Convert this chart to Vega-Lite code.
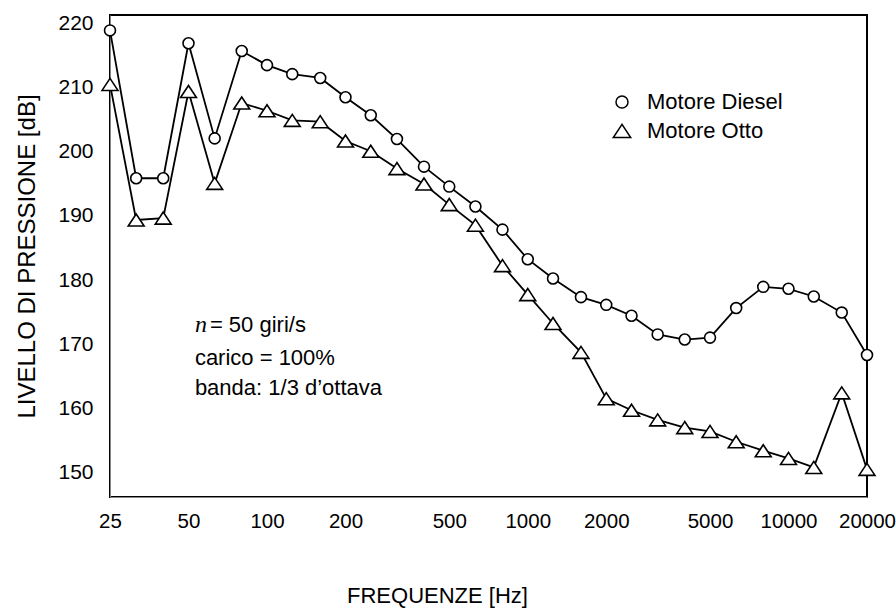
{
  "$schema": "https://vega.github.io/schema/vega-lite/v6.json",
  "width": 757,
  "height": 482,
  "autosize": "none",
  "padding": {"left": 110, "top": 15, "right": 29, "bottom": 115},
  "background": "white",
  "config": {
    "view": {"stroke": "black", "strokeWidth": 2},
    "font": "Liberation Sans",
    "axis": {"labelColor": "black", "titleColor": "black", "titleFontWeight": "normal", "labelFont": "Liberation Sans", "titleFont": "Liberation Sans", "ticks": false, "grid": false}
  },
  "datasets": {
    "spl": [
      {"freq": 25, "level": 217.6, "motore": "Motore Diesel"},
      {"freq": 31.5, "level": 194.6, "motore": "Motore Diesel"},
      {"freq": 40, "level": 194.6, "motore": "Motore Diesel"},
      {"freq": 50, "level": 215.6, "motore": "Motore Diesel"},
      {"freq": 63, "level": 200.8, "motore": "Motore Diesel"},
      {"freq": 80, "level": 214.4, "motore": "Motore Diesel"},
      {"freq": 100, "level": 212.2, "motore": "Motore Diesel"},
      {"freq": 125, "level": 210.8, "motore": "Motore Diesel"},
      {"freq": 160, "level": 210.2, "motore": "Motore Diesel"},
      {"freq": 200, "level": 207.2, "motore": "Motore Diesel"},
      {"freq": 250, "level": 204.4, "motore": "Motore Diesel"},
      {"freq": 315, "level": 200.7, "motore": "Motore Diesel"},
      {"freq": 400, "level": 196.4, "motore": "Motore Diesel"},
      {"freq": 500, "level": 193.3, "motore": "Motore Diesel"},
      {"freq": 630, "level": 190.2, "motore": "Motore Diesel"},
      {"freq": 800, "level": 186.6, "motore": "Motore Diesel"},
      {"freq": 1000, "level": 182.0, "motore": "Motore Diesel"},
      {"freq": 1250, "level": 179.0, "motore": "Motore Diesel"},
      {"freq": 1600, "level": 176.1, "motore": "Motore Diesel"},
      {"freq": 2000, "level": 174.9, "motore": "Motore Diesel"},
      {"freq": 2500, "level": 173.2, "motore": "Motore Diesel"},
      {"freq": 3150, "level": 170.3, "motore": "Motore Diesel"},
      {"freq": 4000, "level": 169.5, "motore": "Motore Diesel"},
      {"freq": 5000, "level": 169.8, "motore": "Motore Diesel"},
      {"freq": 6300, "level": 174.4, "motore": "Motore Diesel"},
      {"freq": 8000, "level": 177.7, "motore": "Motore Diesel"},
      {"freq": 10000, "level": 177.4, "motore": "Motore Diesel"},
      {"freq": 12500, "level": 176.2, "motore": "Motore Diesel"},
      {"freq": 16000, "level": 173.7, "motore": "Motore Diesel"},
      {"freq": 20000, "level": 167.1, "motore": "Motore Diesel"},
      {"freq": 25, "level": 209.2, "motore": "Motore Otto"},
      {"freq": 31.5, "level": 188.1, "motore": "Motore Otto"},
      {"freq": 40, "level": 188.4, "motore": "Motore Otto"},
      {"freq": 50, "level": 208.1, "motore": "Motore Otto"},
      {"freq": 63, "level": 193.8, "motore": "Motore Otto"},
      {"freq": 80, "level": 206.3, "motore": "Motore Otto"},
      {"freq": 100, "level": 205.1, "motore": "Motore Otto"},
      {"freq": 125, "level": 203.6, "motore": "Motore Otto"},
      {"freq": 160, "level": 203.4, "motore": "Motore Otto"},
      {"freq": 200, "level": 200.4, "motore": "Motore Otto"},
      {"freq": 250, "level": 198.8, "motore": "Motore Otto"},
      {"freq": 315, "level": 196.1, "motore": "Motore Otto"},
      {"freq": 400, "level": 193.7, "motore": "Motore Otto"},
      {"freq": 500, "level": 190.5, "motore": "Motore Otto"},
      {"freq": 630, "level": 187.3, "motore": "Motore Otto"},
      {"freq": 800, "level": 181.0, "motore": "Motore Otto"},
      {"freq": 1000, "level": 176.5, "motore": "Motore Otto"},
      {"freq": 1250, "level": 172.0, "motore": "Motore Otto"},
      {"freq": 1600, "level": 167.5, "motore": "Motore Otto"},
      {"freq": 2000, "level": 160.3, "motore": "Motore Otto"},
      {"freq": 2500, "level": 158.5, "motore": "Motore Otto"},
      {"freq": 3150, "level": 157.0, "motore": "Motore Otto"},
      {"freq": 4000, "level": 155.8, "motore": "Motore Otto"},
      {"freq": 5000, "level": 155.2, "motore": "Motore Otto"},
      {"freq": 6300, "level": 153.6, "motore": "Motore Otto"},
      {"freq": 8000, "level": 152.2, "motore": "Motore Otto"},
      {"freq": 10000, "level": 151.0, "motore": "Motore Otto"},
      {"freq": 12500, "level": 149.6, "motore": "Motore Otto"},
      {"freq": 16000, "level": 161.2, "motore": "Motore Otto"},
      {"freq": 20000, "level": 149.3, "motore": "Motore Otto"}
    ],
    "note": [
      {"freq": 60.4, "level": 171.7, "text": "= 50 giri/s"},
      {"freq": 52.9, "level": 166.7, "text": "carico = 100%"},
      {"freq": 52.9, "level": 161.9, "text": "banda: 1/3 d’ottava"}
    ],
    "noteVar": [
      {"freq": 52.9, "level": 171.7, "text": "n"}
    ]
  },
  "encoding": {
    "x": {
      "field": "freq", "type": "quantitative",
      "scale": {"type": "log", "domain": [25, 20000], "nice": false},
      "axis": {
        "title": "FREQUENZE [Hz]",
        "titleFontSize": 22,
        "titlePadding": 54,
        "titleX": 327,
        "labelFontSize": 20.5,
        "labelFlush": false,
        "labelOverlap": false,
        "labelPadding": 14,
        "values": [25, 50, 100, 200, 500, 1000, 2000, 5000, 10000, 20000],
        "format": "d"
      }
    },
    "y": {
      "field": "level", "type": "quantitative",
      "scale": {"domain": [145, 220], "nice": false, "zero": false},
      "axis": {
        "title": "LIVELLO DI PRESSIONE [dB]",
        "titleFontSize": 24,
        "titlePadding": 18,
        "labelFontSize": 21,
        "labelPadding": 17,
        "labelOffset": 8,
        "values": [150, 160, 170, 180, 190, 200, 210, 220]
      }
    }
  },
  "layer": [
    {
      "data": {"name": "spl"},
      "mark": {"type": "line", "color": "black", "strokeWidth": 1.8},
      "encoding": {"detail": {"field": "motore"}}
    },
    {
      "data": {"name": "spl"},
      "mark": {"type": "point", "filled": true, "fill": "white", "stroke": "black", "strokeWidth": 1.6, "opacity": 1, "size": 120},
      "encoding": {
        "shape": {
          "field": "motore", "type": "nominal",
          "scale": {"domain": ["Motore Diesel", "Motore Otto"], "range": ["circle", "M0,-1.1L-1.45,1.1L1.45,1.1Z"]},
          "legend": {
            "title": null,
            "orient": "none",
            "legendX": 501,
            "legendY": 76,
            "padding": 0,
            "labelFontSize": 22,
            "labelColor": "black",
            "labelLimit": 300,
            "labelOffset": 14,
            "rowPadding": 7,
            "symbolSize": 144
          }
        }
      }
    },
    {
      "data": {"name": "note"},
      "mark": {"type": "text", "align": "left", "baseline": "middle", "fontSize": 22, "font": "Liberation Sans", "color": "black"},
      "encoding": {"text": {"field": "text"}}
    },
    {
      "data": {"name": "noteVar"},
      "mark": {"type": "text", "align": "left", "baseline": "middle", "fontSize": 24, "font": "Liberation Serif", "fontStyle": "italic", "color": "black"},
      "encoding": {"text": {"field": "text"}}
    }
  ]
}
